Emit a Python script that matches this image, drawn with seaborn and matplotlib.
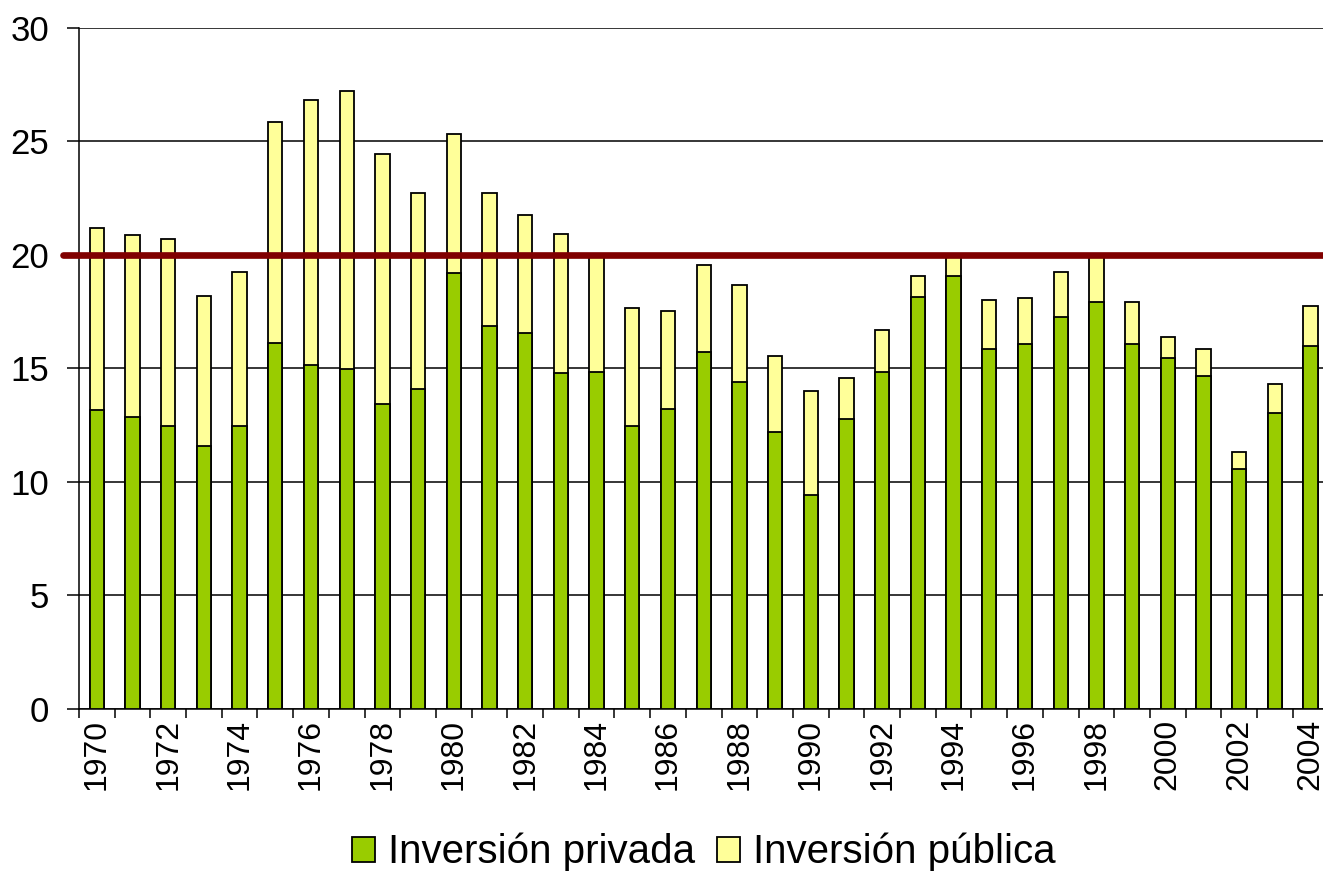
import numpy as np
import matplotlib
matplotlib.use('Agg')
import matplotlib.pyplot as plt
import seaborn as sns
from matplotlib.patches import Patch
from matplotlib.ticker import FixedLocator

# datos (% del PIB)
anios = [str(a) for a in range(1970, 2005)]
inversion_privada = [13.17, 12.86, 12.47, 11.60, 12.47, 16.11, 15.15, 14.96, 13.44, 14.10,
                     19.19, 16.87, 16.58, 14.78, 14.86, 12.47, 13.23, 15.73, 14.39, 12.19,
                     9.41, 12.76, 14.86, 18.13, 19.07, 15.84, 16.10, 17.25, 17.93, 16.10,
                     15.45, 14.68, 10.56, 13.05, 16.00]
inversion_publica = [8.02, 8.02, 8.23, 6.61, 6.79, 9.76, 11.68, 12.26, 11.01, 8.62,
                     6.13, 5.85, 5.18, 6.13, 5.09, 5.18, 4.32, 3.81, 4.30, 3.36,
                     4.59, 1.82, 1.82, 0.95, 0.88, 2.18, 2.02, 2.02, 2.02, 1.83,
                     0.95, 1.16, 0.78, 1.25, 1.75]
umbral = 20
etiquetas_y = [0, 5, 10, 15, 20, 25, 30]

verde = '#99CC00'
amarillo = '#FFFF99'
rojo = '#800000'

sns.set_style('white')
plt.rcParams['font.family'] = ['Liberation Sans', 'DejaVu Sans']
plt.rcParams['text.color'] = 'black'
plt.rcParams['xtick.color'] = 'black'
plt.rcParams['ytick.color'] = 'black'
plt.rcParams['xtick.labelcolor'] = 'black'
plt.rcParams['ytick.labelcolor'] = 'black'

fig = plt.figure(figsize=(13.23, 8.74), dpi=100)
ax = fig.add_axes([0.0597, 0.1888, 0.9444, 0.7792])

total = np.array(inversion_privada) + np.array(inversion_publica)

# barra total (amarilla) y encima la privada (verde)
sns.barplot(x=anios, y=total, color=amarillo, saturation=1, width=0.4,
            edgecolor='black', linewidth=1.3, ax=ax, zorder=2)
sns.barplot(x=anios, y=inversion_privada, color=verde, saturation=1, width=0.4,
            edgecolor='black', linewidth=1.3, ax=ax, zorder=3)

ax.axhline(umbral, xmin=-0.0126, xmax=1, color=rojo, lw=4.8, zorder=5, clip_on=False)

ax.set_xlim(-0.5, len(anios) - 0.5)
ax.set_ylim(0, 30)
ax.set_yticks(etiquetas_y)
ax.yaxis.grid(True, color='black', lw=1.1)
ax.xaxis.grid(False)
ax.set_axisbelow(True)

# etiquetas cada dos anios, marcas en los limites de cada categoria
pos_pares = list(range(0, len(anios), 2))
ax.set_xticks(pos_pares)
ax.set_xticklabels([anios[i] for i in pos_pares], rotation=90)
ax.xaxis.set_minor_locator(FixedLocator(np.arange(-0.5, len(anios), 1)))
ax.tick_params(axis='x', which='major', length=0, pad=7, labelsize=23)
ax.tick_params(axis='x', which='minor', length=6.5, width=1.1, color='black', direction='out', bottom=True)
ax.tick_params(axis='y', length=8.6, width=1.1, color='black', direction='out', left=True,
               pad=13, labelsize=25)

ax.set_xlabel('')
ax.set_ylabel('')
for lado in ['top', 'right']:
    ax.spines[lado].set_visible(False)
for lado in ['left', 'bottom']:
    ax.spines[lado].set_color('black')
    ax.spines[lado].set_linewidth(1.1)

manejadores = [Patch(facecolor=verde, edgecolor='black', lw=1.3, label='Inversión privada'),
               Patch(facecolor=amarillo, edgecolor='black', lw=1.3, label='Inversión pública')]
fig.legend(handles=manejadores, loc='center', bbox_to_anchor=(0.532, 0.025), ncol=2,
           frameon=False, fontsize=29, handlelength=0.57, handleheight=0.57,
           handletextpad=0.32, columnspacing=0.54)

fig.savefig('out.png', dpi=100)
